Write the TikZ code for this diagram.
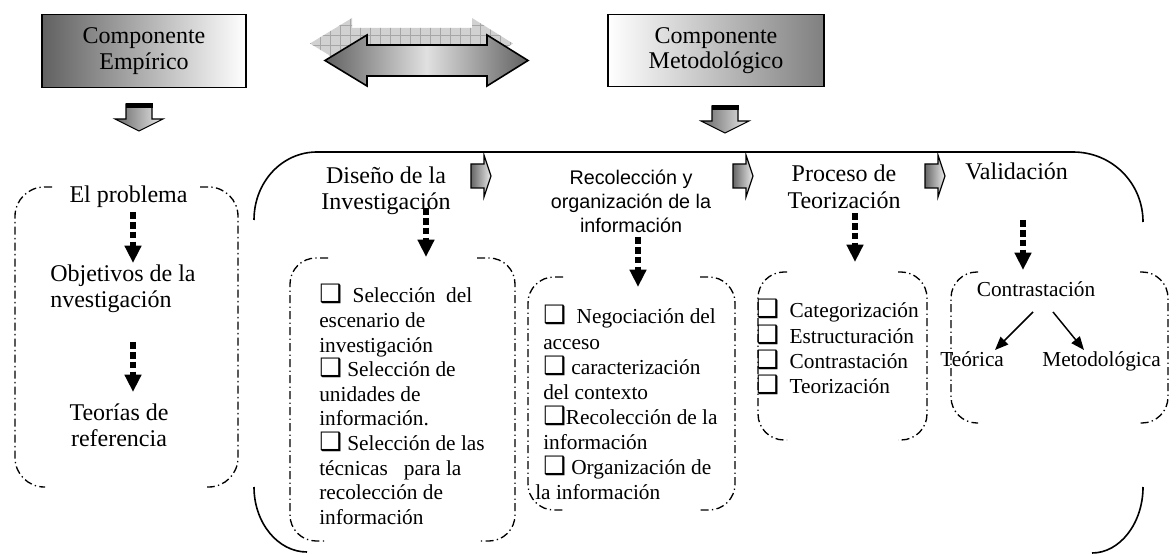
\documentclass[tikz,border=0pt]{standalone}
\usepackage{fontspec}
\setmainfont{Liberation Serif}
\setsansfont{Liberation Sans}
\newfontfamily\dejavu{DejaVu Sans}
\usetikzlibrary{arrows.meta,patterns.meta}
\newcommand\cb{{\dejavu\fontsize{19}{19}\selectfont ❑}}
\newcommand\ddbox[9]{%
 \draw[ddash,rounded corners=#9] (#5,#2) -- (#1,#2) -- (#1,#4) -- (#6,#4);
 \draw[ddash,rounded corners=#9] (#7,#2) -- (#3,#2) -- (#3,#4) -- (#8,#4);}
\newcommand\tbl[4]{\parbox[t]{#1}{\raggedright\fontsize{#2}{#3}\selectfont #4}}
\newcommand\tbc[4]{\parbox[t]{#1}{\centering\fontsize{#2}{#3}\selectfont #4}}
\begin{document}
\begin{tikzpicture}[x=0.75pt,y=-0.75pt,
 every node/.style={inner sep=0pt, font=\fontsize{18}{20}\selectfont},
 txt/.style={anchor=base},
 txtl/.style={anchor=base west},
 small/.style={font=\fontsize{16}{18}\selectfont},
 compbox/.style={draw, line width=1.2pt, align=center, font=\fontsize{18}{19}\selectfont},
 ddash/.style={line width=1pt, dash pattern=on 6pt off 2.5pt on 1pt off 2.5pt},
 dotarrow/.style={line width=4.5pt, dash pattern=on 5pt off 2.4pt, -{Triangle[width=12pt,length=13pt]}},
 thinarrow/.style={line width=1.1pt, -{Triangle[width=8pt,length=10pt]}},
 bracket/.style={line width=1.2pt},
 rarrow/.pic={\draw[line width=0.9pt, left color=black!60, right color=black!8]
   (0,-12) -- (13,-12) -- (13,-21) -- (20,0) -- (13,21) -- (13,12) -- (0,12) -- cycle;},
 dnarrow/.pic={\draw[line width=0.8pt, left color=black!60, right color=black!8]
   (-13,0) -- (13,0) -- (13,15) -- (24,15) -- (0,27) -- (-24,15) -- (-13,15) -- cycle;
   \fill[black] (-13.5,-0.5) rectangle (13.5,4);}
]
\useasboundingbox (0,0) rectangle (1176,555);

% top components
\node[compbox, left color=black!62, right color=white, minimum width=153pt, minimum height=54.75pt] (ce) at (144,51) {Componente\\Empírico};
\node[compbox, left color=white, right color=black!50, minimum width=162pt, minimum height=54pt] (cm) at (716,50.5) {Componente\\Metodológico};

% double arrow with shadow
\begin{scope}[shift={(-15,-17)}]
\fill[black!18] (325,60.5) -- (367,35) -- (367,45) -- (487,45) -- (487,35) -- (528,60.5) -- (487,86) -- (487,76) -- (367,76) -- (367,86) -- cycle;
\path[pattern={Hatch[angle=0,distance=7.5pt,line width=0.5pt]}, pattern color=black!35] (325,60.5) -- (367,35) -- (367,45) -- (487,45) -- (487,35) -- (528,60.5) -- (487,86) -- (487,76) -- (367,76) -- (367,86) -- cycle;
\end{scope}
\draw[line width=1.2pt, left color=black!62, right color=black!62, middle color=black!12] (325,60.5) -- (367,35) -- (367,45) -- (487,45) -- (487,35) -- (528,60.5) -- (487,86) -- (487,76) -- (367,76) -- (367,86) -- cycle;

% small down arrows
\pic at (139,104) {dnarrow};
\pic at (725,106) {dnarrow};

% big bracket
\draw[bracket] (254,220) .. controls (254,182) and (282,152) .. (317,152) -- (1073,152) .. controls (1112,152) and (1143,183) .. (1143,222);
\draw[bracket] (254,487) .. controls (254,523) and (278,552) .. (307,552);
\draw[bracket] (1143,487) .. controls (1143,523) and (1120,553) .. (1092,553);

% left column
\ddbox{15}{187}{238}{487}{52}{45}{200}{207}{22pt}
\node[txt] (prob) at (128.5,203) {El problema};
\node[txtl] (obj) at (50,282) {\tbl{150pt}{18}{19.5pt}{Objetivos de la\\nvestigación}};
\node[txt] (teor) at (119,420) {\tbc{120pt}{18}{20pt}{Teorías de\\referencia}};
\coordinate (a1s) at (133,212); \coordinate (a1e) at (133,263);
\coordinate (a2s) at (133,342); \coordinate (a2e) at (133,392);
\draw[dotarrow] (a1s) -- (a1e);
\draw[dotarrow] (a2s) -- (a2e);

% headers
\node[txt] (dis) at (386,184) {\tbc{140pt}{18}{19.5pt}{Diseño de la\\Investigación}};
\node[txt] (rec) at (631,185) {\parbox[t]{150pt}{\centering\sffamily\fontsize{14.8}{18}\selectfont Recolección y\\organización de la\\información}};
\node[txt] (pro) at (844,182) {\tbc{120pt}{18}{20pt}{Proceso de\\Teorización}};
\node[txtl] (val) at (965,180) {Validación};
\pic at (471,176) {rarrow};
\pic at (733,176) {rarrow};
\pic at (925,176) {rarrow};

% dotted arrows from headers
\coordinate (d1s) at (426,208); \coordinate (d1e) at (426,257);
\coordinate (d2s) at (638,237); \coordinate (d2e) at (638,287);
\coordinate (d3s) at (855,213); \coordinate (d3e) at (855,262);
\coordinate (d4s) at (1023,220); \coordinate (d4e) at (1023,270);
\draw[dotarrow] (d1s) -- (d1e);
\draw[dotarrow] (d2s) -- (d2e);
\draw[dotarrow] (d3s) -- (d3e);
\draw[dotarrow] (d4s) -- (d4e);

% boxes
\ddbox{290}{258}{515}{541}{328}{325}{477}{480}{19.5pt}
\ddbox{528}{277}{735}{510}{563}{563}{700}{700}{19.5pt}
\ddbox{758}{272}{927}{440}{787}{787}{898}{898}{19.5pt}
\ddbox{951}{272}{1168}{423}{978}{978}{1140}{1140}{19.5pt}

\node[txtl] (l1) at (319,303) {\tbl{200pt}{16}{18.45pt}{\cb\ \ Selección\ \ del\\escenario de\\investigación\\\cb\ Selección de\\unidades de\\información.\\\cb\ Selección de las\\técnicas\ \ \ para la\\recolección de\\información}};
\node[txtl] (l2) at (543,324) {\tbl{200pt}{16}{18.8pt}{\cb\ \ Negociación del\\acceso\\\cb\ caracterización\\del contexto\\\cb Recolección de la\\información\\\cb\ Organización de\\\hspace*{-6pt}la información}};
\node[txtl] (l3) at (756,318) {\tbl{200pt}{16}{19pt}{\cb\ \ Categorización\\\cb\ \ Estructuración\\\cb\ \ Contrastación\\\cb\ \ Teorización}};

\node[txt, small] (contr) at (1036,297) {Contrastación};
\node[txtl, small] (teo) at (940,367) {Teórica};
\node[txtl, small] (met) at (1042,367) {Metodológica};
\draw[thinarrow] ([shift={(-3,15)}]contr.base) -- ([shift={(55,-17)}]teo.base west);
\draw[thinarrow] ([shift={(17,15)}]contr.base) -- ([shift={(42,-17)}]met.base west);
\end{tikzpicture}
\end{document}
